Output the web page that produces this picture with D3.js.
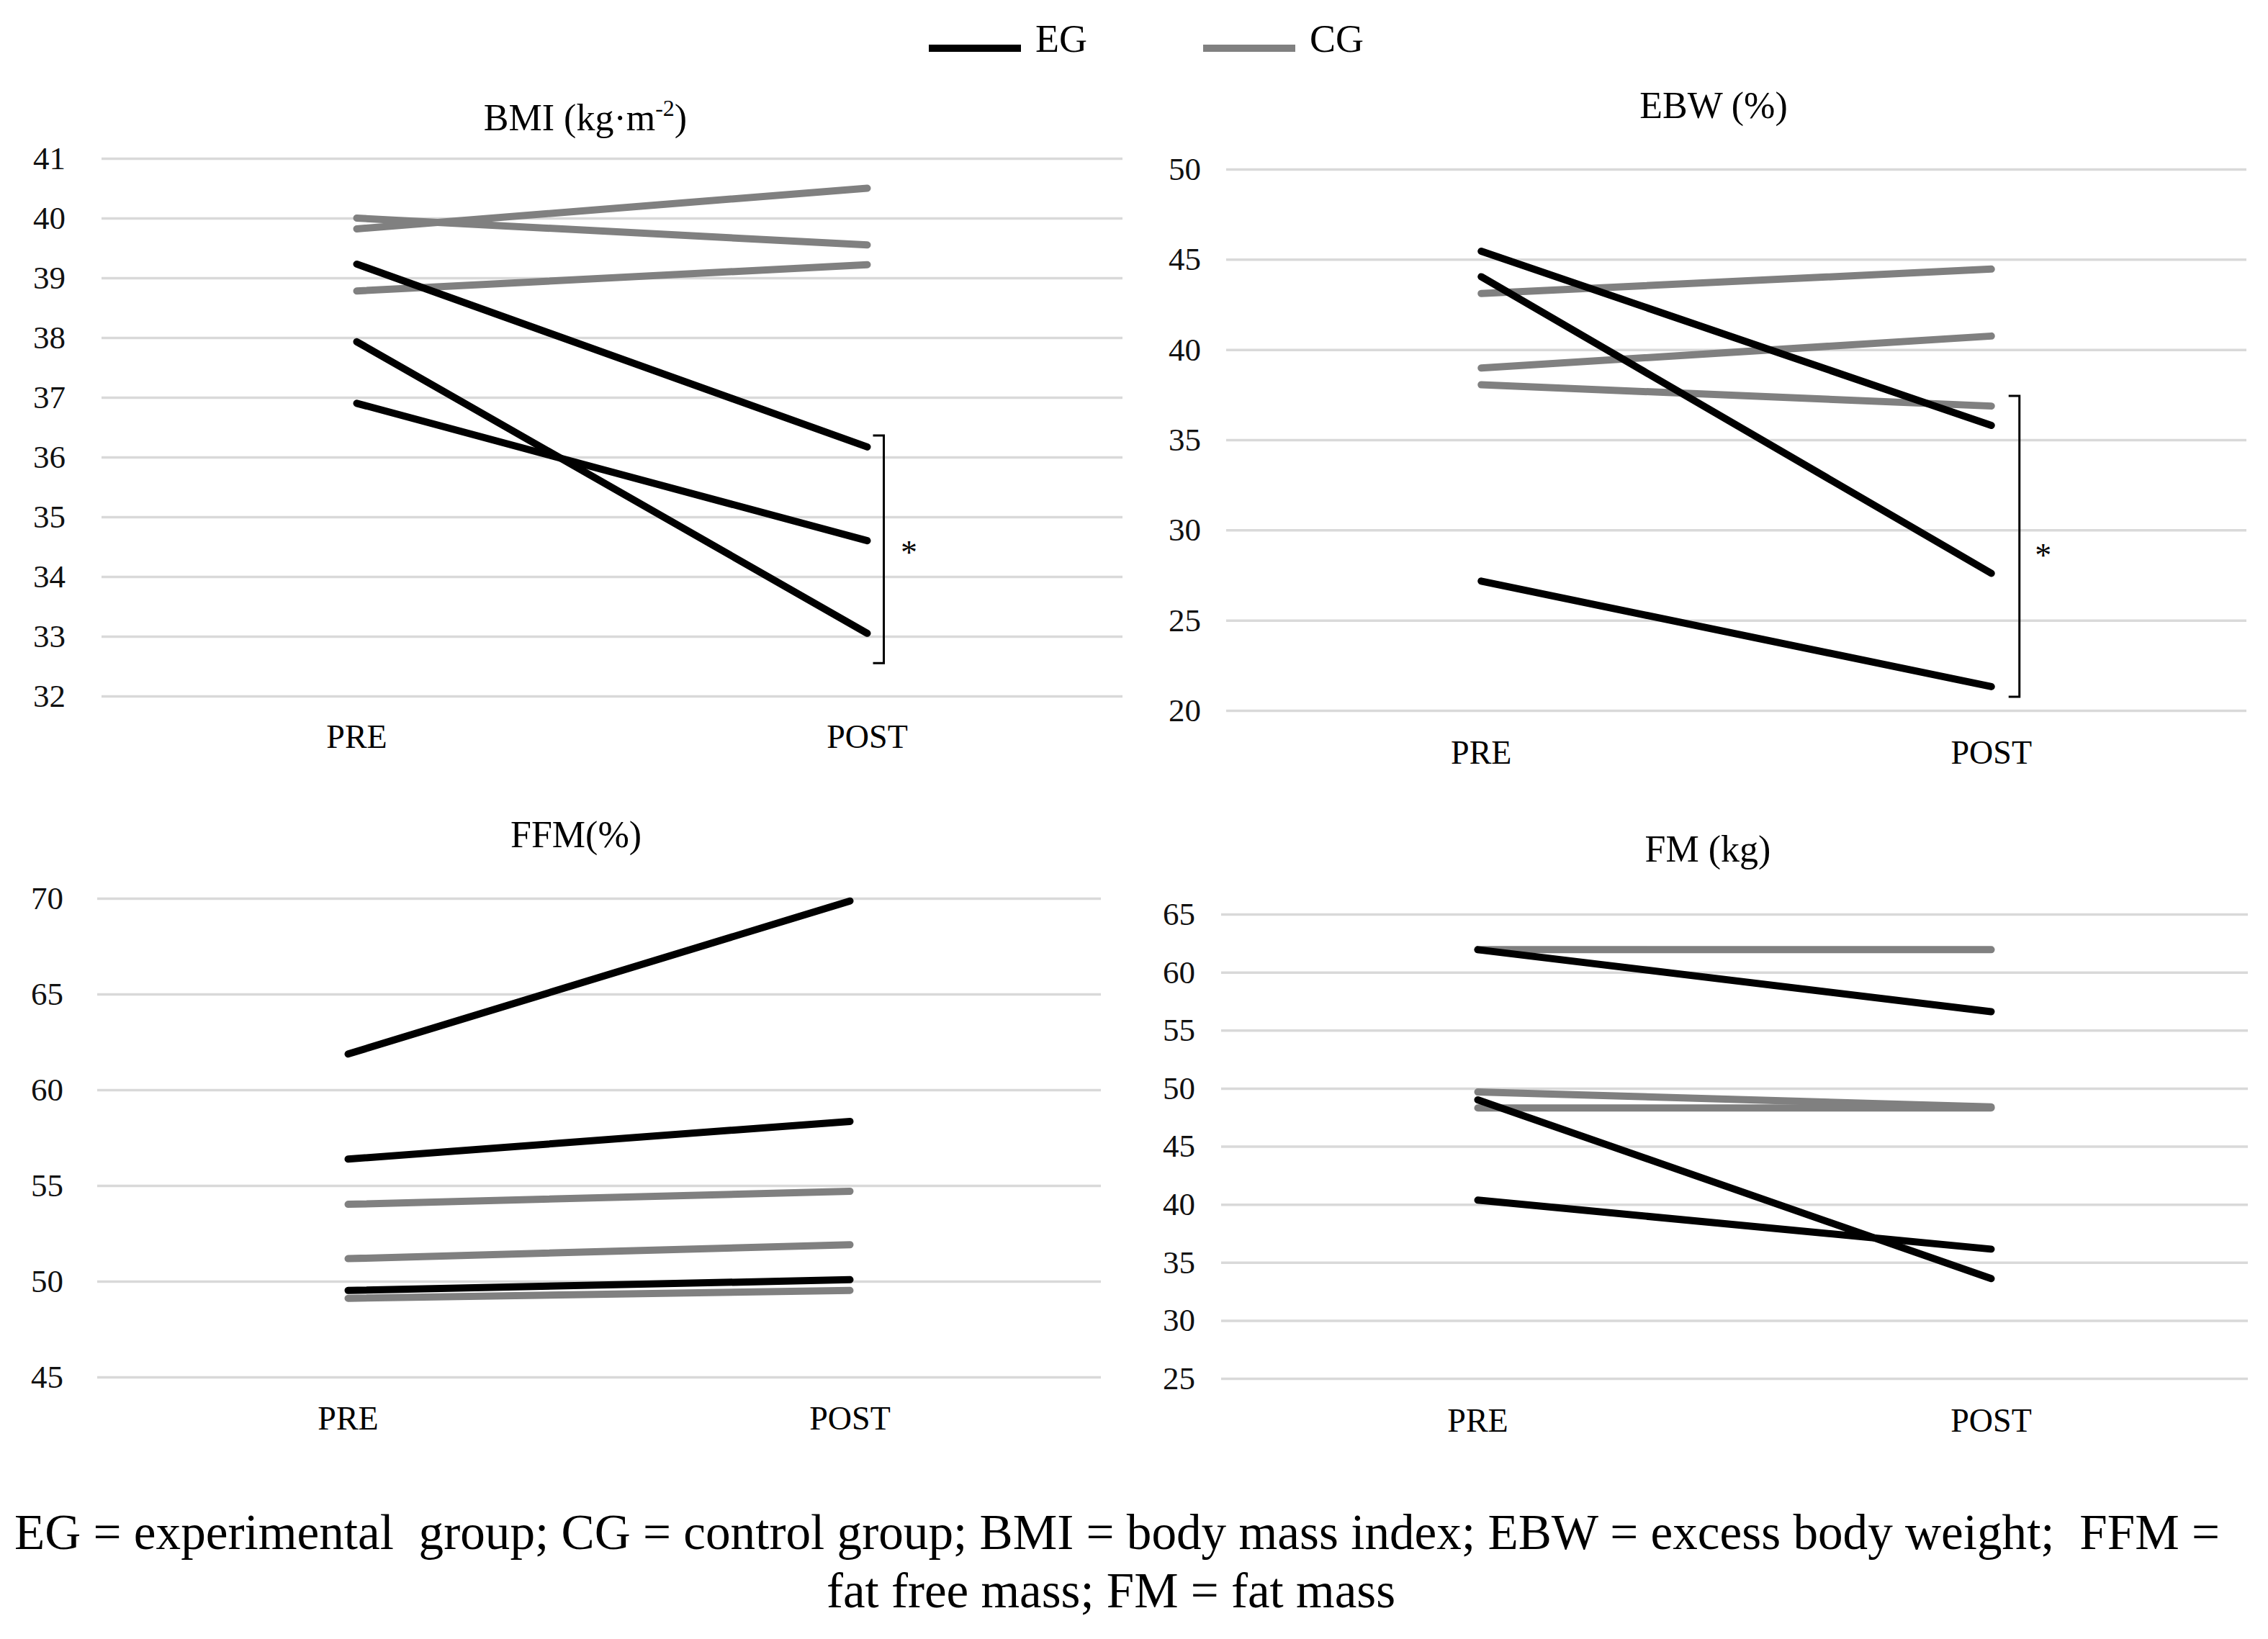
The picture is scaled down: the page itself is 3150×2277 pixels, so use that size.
<!DOCTYPE html>
<html>
<head>
<meta charset="utf-8">
<script src="https://cdn.jsdelivr.net/npm/d3@7"></script>
<style>
  html, body { margin: 0; padding: 0; background: #fff; }
  svg { display: block; font-family: "Liberation Serif", "Times New Roman", serif; }
</style>
</head>
<body>
<svg id="chart" width="3150" height="2277"></svg>
<script>
// categories on the x axis
const categories = ["PRE", "POST"];

// each row = one subject line [PRE, POST]
const bmiEG = [[39.23, 36.17], [37.93, 33.05], [36.9, 34.6]];
const bmiCG = [[40.0, 39.55], [39.82, 40.5], [38.78, 39.22]];
const bmiTicks = [32, 33, 34, 35, 36, 37, 38, 39, 40, 41];

const ebwEG = [[45.45, 35.8], [44.04, 27.6], [27.17, 21.32]];
const ebwCG = [[43.11, 44.46], [38.98, 40.75], [38.05, 36.87]];
const ebwTicks = [20, 25, 30, 35, 40, 45, 50];

const ffmEG = [[61.87, 69.86], [56.38, 58.35], [49.52, 50.08]];
const ffmCG = [[54.02, 54.7], [51.18, 51.91], [49.11, 49.52]];
const ffmTicks = [45, 50, 55, 60, 65, 70];

const fmEG = [[61.94, 56.6], [49.0, 33.6], [40.36, 36.14]];
const fmCG = [[61.94, 61.94], [49.68, 48.4], [48.3, 48.3]];
const fmTicks = [25, 30, 35, 40, 45, 50, 55, 60, 65];

// significance brackets [top, bottom, asterisk]
const bmiBracket = [36.36, 32.55, 34.48];
const ebwBracket = [37.43, 20.76, 28.86];

const legendItems = ["EG", "CG"];
const caption = [
  "EG = experimental  group; CG = control group; BMI = body mass index; EBW = excess body weight;  FFM =",
  "fat free mass; FM = fat mass"
];

const EG_COLOR = "#000000";
const CG_COLOR = "#808080";
const GRID_COLOR = "#d9d9d9";

const svg = d3.select("#chart");

// panel layout
const panels = [
  { title: "BMI", eg: bmiEG, cg: bmiCG, ticks: bmiTicks, bracket: bmiBracket,
    x0: 141, x1: 1559, yTop: 220, yBot: 967, labelRight: 91,
    titleX: 813, titleY: 181, xLabelY: 1039, brOff: 23, starOff: 58 },
  { title: "EBW (%)", eg: ebwEG, cg: ebwCG, ticks: ebwTicks, bracket: ebwBracket,
    x0: 1703, x1: 3120, yTop: 235, yBot: 987, labelRight: 1668,
    titleX: 2380, titleY: 164, xLabelY: 1061, brOff: 39, starOff: 72 },
  { title: "FFM(%)", eg: ffmEG, cg: ffmCG, ticks: ffmTicks, bracket: null,
    x0: 135, x1: 1529, yTop: 1248, yBot: 1913, labelRight: 88,
    titleX: 800, titleY: 1177, xLabelY: 1986 },
  { title: "FM (kg)", eg: fmEG, cg: fmCG, ticks: fmTicks, bracket: null,
    x0: 1696, x1: 3122, yTop: 1270, yBot: 1915, labelRight: 1660,
    titleX: 2372, titleY: 1197, xLabelY: 1989 }
];

panels.forEach(p => {
  const g = svg.append("g");
  const x = d3.scalePoint().domain(categories).range([p.x0, p.x1]).padding(0.5);
  const y = d3.scaleLinear()
    .domain([d3.min(p.ticks), d3.max(p.ticks)])
    .range([p.yBot, p.yTop]);

  // gridlines + tick labels from one axis
  const yAxis = d3.axisLeft(y)
    .tickValues(p.ticks)
    .tickSize(-(p.x1 - p.x0))
    .tickPadding(p.x0 - p.labelRight)
    .tickFormat(d3.format("d"));
  const ax = g.append("g").attr("transform", `translate(${p.x0},0)`).call(yAxis);
  ax.attr("font-family", "Liberation Serif");
  ax.select(".domain").remove();
  ax.selectAll(".tick line").attr("stroke", GRID_COLOR).attr("stroke-width", 3.5);
  ax.selectAll(".tick text")
    .attr("font-size", 45)
    .attr("fill", "#111");

  // category labels
  g.selectAll(".xlab").data(categories).enter().append("text")
    .attr("x", d => x(d))
    .attr("y", p.xLabelY)
    .attr("text-anchor", "middle")
    .attr("font-size", 46)
    .text(d => d);

  // title
  const t = g.append("text")
    .attr("x", p.titleX)
    .attr("y", p.titleY)
    .attr("text-anchor", "middle")
    .attr("font-size", 52);
  if (p.title === "BMI") {
    t.append("tspan").text("BMI (kg·m");
    t.append("tspan").attr("font-size", 32).attr("dy", -20).text("-2");
    t.append("tspan").attr("dy", 20).text(")");
  } else {
    t.text(p.title);
  }

  const line = d3.line().x((d, i) => x(categories[i])).y(d => y(d));

  g.selectAll(".cg").data(p.cg).enter().append("path")
    .attr("d", line)
    .attr("fill", "none")
    .attr("stroke", CG_COLOR)
    .attr("stroke-width", 10)
    .attr("stroke-linecap", "round");

  g.selectAll(".eg").data(p.eg).enter().append("path")
    .attr("d", line)
    .attr("fill", "none")
    .attr("stroke", EG_COLOR)
    .attr("stroke-width", 10)
    .attr("stroke-linecap", "round");

  if (p.bracket) {
    const bx = x("POST") + p.brOff;
    const yt = y(p.bracket[0]), yb = y(p.bracket[1]);
    g.append("path")
      .attr("d", `M${bx - 15},${yt}H${bx}V${yb}H${bx - 15}`)
      .attr("fill", "none")
      .attr("stroke", "#000")
      .attr("stroke-width", 3);
    g.append("text")
      .attr("x", x("POST") + p.starOff)
      .attr("y", y(p.bracket[2]) + 22)
      .attr("text-anchor", "middle")
      .attr("font-size", 46)
      .text("*");
  }
});

// legend
const legend = svg.append("g");
const legX = [1290, 1671];
legendItems.forEach((name, i) => {
  legend.append("line")
    .attr("x1", legX[i]).attr("x2", legX[i] + 128)
    .attr("y1", 67).attr("y2", 67)
    .attr("stroke", i === 0 ? EG_COLOR : CG_COLOR)
    .attr("stroke-width", 10);
  legend.append("text")
    .attr("x", legX[i] + 148)
    .attr("y", 72)
    .attr("font-size", 54)
    .text(name);
});

// caption under the chart
const cap = svg.append("g");
cap.append("text")
  .attr("x", 20).attr("y", 2152)
  .attr("font-size", 69)
  .attr("textLength", 3063)
  .attr("lengthAdjust", "spacingAndGlyphs")
  .style("white-space", "pre")
  .text(caption[0]);
cap.append("text")
  .attr("x", 1543).attr("y", 2233)
  .attr("text-anchor", "middle")
  .attr("font-size", 69)
  .text(caption[1]);
</script>
</body>
</html>
